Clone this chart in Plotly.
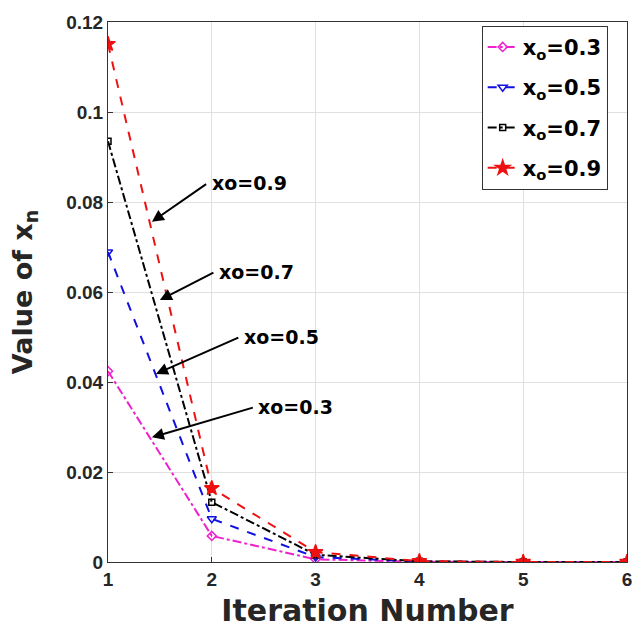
import plotly.graph_objects as go

iterations = [1, 2, 3, 4, 5, 6]
x03 = [0.0424, 0.0058, 0.0006, 0.00005, 0.0, 0.0]
x05 = [0.0689, 0.0096, 0.0011, 0.0001, 0.0, 0.0]
x07 = [0.0935, 0.0133, 0.0016, 0.00015, 0.0, 0.0]
x09 = [0.1151, 0.0164, 0.0022, 0.0002, 0.0, 0.0]
series_names = ["x<sub>o</sub>=0.3", "x<sub>o</sub>=0.5", "x<sub>o</sub>=0.7", "x<sub>o</sub>=0.9"]

# annotation labels: (text, arrow head x, head y, tail x, tail y)
ann_labels = ["xo=0.9", "xo=0.7", "xo=0.5", "xo=0.3"]
ann_head_x = [1.423, 1.50, 1.462, 1.423]
ann_head_y = [0.0756, 0.0582, 0.0418, 0.0277]
ann_tail_x = [1.96, 2.03, 2.27, 2.41]
ann_tail_y = [0.0842, 0.0645, 0.0500, 0.0344]

FONT = "DejaVu Sans"
TICKFONT = "Liberation Sans"
fig = go.Figure()
styles = [
    dict(color="#ee22cc", dash="dashdot", symbol="diamond-open", size=7),
    dict(color="#1010e0", dash="dash", symbol="triangle-down-open", size=8),
    dict(color="#000000", dash="dashdot", symbol="square-open", size=6),
    dict(color="#ee1111", dash="dash", symbol="star", size=11),
]
for i, (ys, name, st) in enumerate(zip([x03, x05, x07, x09], series_names, styles)):
    fig.add_trace(go.Scatter(
        x=iterations, y=ys, name=name, mode="lines+markers", legendgroup="g%d" % i,
        line=dict(color=st["color"], dash=st["dash"], width=2),
        marker=dict(symbol=st["symbol"], size=st["size"], color=st["color"],
                    line=dict(color=st["color"], width=1.5)),
    ))

for t, hx, hy, tx, ty in zip(ann_labels, ann_head_x, ann_head_y, ann_tail_x, ann_tail_y):
    fig.add_annotation(x=hx, y=hy, ax=tx, ay=ty, xref="x", yref="y", axref="x", ayref="y",
                       text="", showarrow=True, arrowhead=2, arrowsize=1.2, arrowwidth=2,
                       arrowcolor="black")
    fig.add_annotation(x=tx, y=ty, xref="x", yref="y", text="<b>%s</b>" % t, showarrow=False,
                       xanchor="left", yanchor="middle", xshift=2,
                       font=dict(family=FONT, size=19, color="black"))

fig.update_layout(
    width=633, height=628,
    margin=dict(l=108, r=6, t=22, b=66, autoexpand=False),
    plot_bgcolor="white", paper_bgcolor="white",
    font=dict(family=FONT, color="#262626"),
    showlegend=True,
    legend=dict(x=0.72, y=0.993, xanchor="left", yanchor="top",
                bgcolor="white", bordercolor="#333", borderwidth=1,
                font=dict(family=FONT, size=21, color="black", weight="bold"),
                itemwidth=30, tracegroupgap=10),
)
fig.update_xaxes(
    range=[1, 6], tickvals=iterations, ticktext=["<b>%d</b>" % i for i in iterations],
    showgrid=True, gridcolor="#e0e0e0", showline=True, linecolor="#333", linewidth=1,
    mirror=True, ticks="inside", ticklen=5, tickcolor="#333", automargin=False,
    tickfont=dict(family=TICKFONT, size=19, color="#262626"),
    title=dict(text="<b>Iteration Number</b>", font=dict(family=FONT, size=30, color="#262626"), standoff=18),
    zeroline=False,
)
ytv = [0, 0.02, 0.04, 0.06, 0.08, 0.1, 0.12]
fig.update_yaxes(
    range=[0, 0.12], tickvals=ytv, ticktext=["<b>%s</b>" % s for s in ["0", "0.02", "0.04", "0.06", "0.08", "0.1", "0.12"]],
    showgrid=True, gridcolor="#e0e0e0", showline=True, linecolor="#333", linewidth=1,
    mirror=True, ticks="inside", ticklen=5, tickcolor="#333", automargin=False,
    tickfont=dict(family=TICKFONT, size=19, color="#262626"),
    title=dict(text="<b>Value of x<sub>n</sub></b>", font=dict(family=FONT, size=27, color="#262626"), standoff=25),
    zeroline=False,
)
fig.write_html("out.html", config={"displayModeBar": False},
               post_script="document.body.style.margin='0';document.body.style.overflow='hidden';")
